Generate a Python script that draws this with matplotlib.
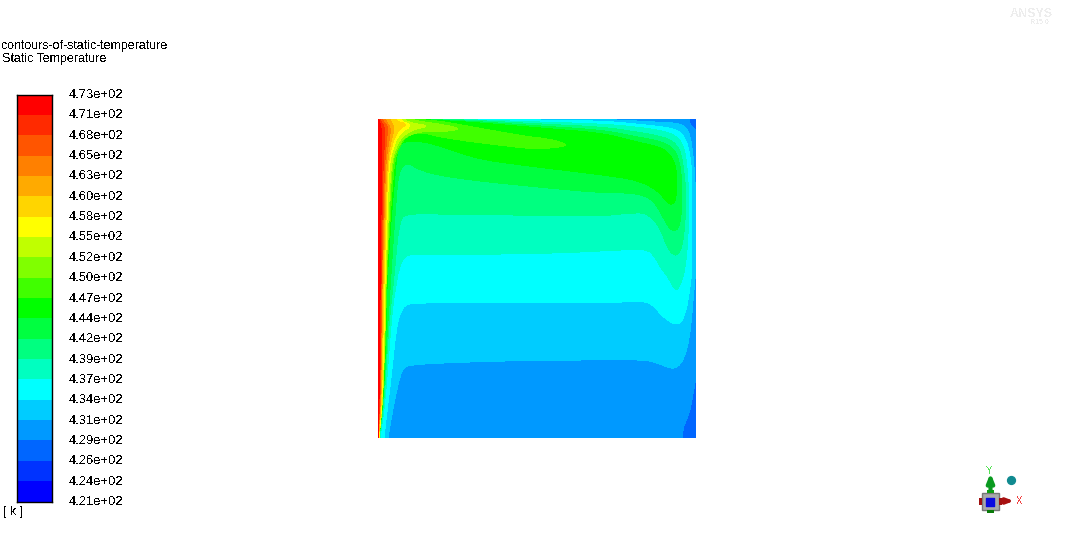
import numpy as np
import matplotlib
matplotlib.use("Agg")
import matplotlib.pyplot as plt
from matplotlib.colors import ListedColormap, BoundaryNorm

plt.rcParams['font.family'] = ['Liberation Sans', 'DejaVu Sans']
plt.rcParams['text.antialiased'] = False

title_lines = ["contours-of-static-temperature", "Static Temperature"]
unit_label = "[ k ]"
tick_labels = ["4.73e+02", "4.71e+02", "4.68e+02", "4.65e+02", "4.63e+02", "4.60e+02", "4.58e+02",
               "4.55e+02", "4.52e+02", "4.50e+02", "4.47e+02", "4.44e+02", "4.42e+02", "4.39e+02",
               "4.37e+02", "4.34e+02", "4.31e+02", "4.29e+02", "4.26e+02", "4.24e+02", "4.21e+02"]
band_colors = ["#0000ff", "#0033ff", "#0066ff", "#0099ff", "#00ccff", "#00ffff", "#00ffc0", "#00ff80",
               "#00ff40", "#00ff00", "#40ff00", "#80ff00", "#c0ff00", "#ffff00", "#ffd500", "#ffaa00",
               "#ff8000", "#ff5500", "#ff2a00", "#ff0000"]

# isotherm outlines: the region hotter than each band edge
iso_band2_corner_br = [(697, 377), (694, 395), (690, 415), (683, 431), (685, 445), (705, 445), (705, 377)]
iso_band2_corner_tr = [(689, 112), (690, 120), (692, 125), (697, 129), (705, 129), (705, 112)]
iso_band4 = [(388, 445), (388, 437), (394, 403), (399, 380), (403, 368), (410, 365), (440, 363), (500, 361),
             (560, 360), (620, 360), (647, 360), (660, 364), (672, 369), (679, 366), (684, 358), (688, 345),
             (691, 325), (693, 300), (696, 270), (696, 200), (694, 164), (691, 140), (688, 130), (680, 123),
             (653, 122), (620, 120), (585, 119), (585, 112), (365, 112), (365, 445)]
iso_band5 = [(384, 445), (384, 437), (388, 403), (392, 370), (395, 340), (398, 320), (403, 307), (410, 303),
             (453, 303), (503, 303), (570, 303), (627, 302), (643, 301), (653, 305), (663, 317), (675, 325),
             (682, 322), (687, 307), (690, 287), (692, 270), (692, 177), (691, 164), (688, 145), (682, 133),
             (672, 128), (637, 124), (603, 121), (540, 120), (483, 119), (483, 112), (365, 112), (365, 445)]
iso_band6 = [(380, 445), (380, 437), (385, 403), (390, 337), (393, 303), (397, 280), (398, 273), (403, 258),
             (410, 254), (450, 255), (500, 254), (560, 253), (620, 250), (647, 249), (655, 257), (660, 267),
             (668, 277), (676, 292), (681, 283), (685, 270), (688, 240), (689, 200), (687, 164), (684, 148),
             (678, 137), (665, 131), (637, 127), (603, 124), (540, 122), (480, 120), (440, 119), (440, 112),
             (365, 112), (365, 445)]
iso_band7 = [(379, 445), (379, 437), (384, 403), (388, 337), (391, 303), (394, 277), (397, 243), (400, 222),
             (405, 213), (470, 215), (537, 215), (603, 216), (630, 213), (647, 213), (660, 227), (668, 250),
             (677, 257), (682, 247), (685, 225), (686, 190), (683, 164), (680, 150), (672, 140), (655, 135),
             (637, 132), (603, 127), (540, 124), (470, 120), (425, 119), (425, 112), (365, 112), (365, 445)]
iso_band8 = [(379, 445), (379, 437), (383, 403), (387, 337), (390, 290), (393, 243), (396, 203), (398, 177),
             (402, 167), (408, 163), (420, 170), (437, 175), (470, 180), (537, 187), (603, 193), (637, 193),
             (653, 200), (662, 215), (668, 227), (675, 232), (680, 225), (682, 205), (682, 185), (680, 164),
             (675, 150), (665, 143), (650, 139), (637, 137), (603, 130), (540, 126), (470, 121), (415, 119),
             (415, 112), (365, 112), (365, 445)]
iso_band9 = [(379, 445), (379, 437), (383, 403), (386, 337), (387, 280), (391, 220), (396, 164), (398, 147),
             (403, 142), (415, 141), (430, 143), (457, 152), (483, 160), (537, 167), (603, 175), (637, 180),
             (657, 190), (667, 202), (672, 205), (676, 200), (677, 177), (675, 164), (670, 154), (660, 147),
             (637, 142), (603, 133), (540, 128), (470, 122), (410, 119), (410, 112), (365, 112), (365, 445)]
iso_band10 = [(379, 445), (379, 437), (382.5, 403), (385.5, 337), (386.5, 280), (390, 220), (394, 164), (398, 150),
              (405, 137), (420, 132), (440, 137), (473, 142), (507, 146), (533, 149), (553, 148), (570, 145),
              (550, 139), (523, 136), (473, 127), (440, 121), (420, 120), (420, 112), (365, 112), (365, 445)]
iso_band11 = [(379, 445), (379, 437), (382.5, 403), (385, 337), (386, 280), (389, 220), (392, 164), (397, 149),
              (405, 136), (425, 131), (440, 132), (463, 129), (440, 124), (410, 120), (410, 112), (365, 112),
              (365, 445)]
iso_band12 = [(379, 445), (379, 437), (382.5, 403), (385, 337), (386, 280), (388, 220), (391, 164), (396, 147),
              (402, 137), (412, 130), (430, 126), (412, 123), (405, 120.5), (405, 112), (365, 112), (365, 445)]
iso_band13 = [(379, 445), (379, 437), (382, 403), (384, 337), (385, 280), (387, 220), (389, 164), (394, 145),
              (400, 133), (413, 125), (400, 121), (400, 112), (365, 112), (365, 445)]
iso_band14 = [(378.5, 445), (378.5, 437), (381.5, 403), (383, 337), (384, 280), (386, 220), (388, 164), (392, 145),
              (398, 130), (408, 124), (395, 121), (395, 112), (365, 112), (365, 445)]
iso_band15 = [(378.5, 445), (378.5, 437), (381, 403), (382, 337), (383, 280), (385, 220), (387, 164), (391, 140),
              (395, 128), (390, 121), (390, 112), (365, 112), (365, 445)]
iso_band16 = [(378, 445), (378, 437), (380.5, 403), (381.5, 337), (382, 280), (384, 220), (385.5, 164), (389, 140),
              (391, 128), (385, 120), (385, 112), (365, 112), (365, 445)]
iso_band17 = [(378, 445), (378, 437), (380, 403), (381, 337), (381.5, 280), (383, 220), (384.5, 164), (387, 135),
              (388, 127), (382, 120), (382, 112), (365, 112), (365, 445)]
iso_band18 = [(378, 445), (378, 437), (379.5, 403), (380.5, 337), (381, 280), (382, 220), (383, 164), (385, 135),
              (384, 126), (380, 120), (380, 112), (365, 112), (365, 445)]
iso_band19 = [(378, 445), (378, 437), (379, 403), (380, 337), (380, 280), (381, 220), (381.5, 164), (382, 135),
              (380, 122), (378, 119), (378, 112), (365, 112), (365, 445)]

hot_isotherms = [(4, iso_band4), (5, iso_band5), (6, iso_band6), (7, iso_band7), (8, iso_band8), (9, iso_band9),
                 (10, iso_band10), (11, iso_band11), (12, iso_band12), (13, iso_band13), (14, iso_band14),
                 (15, iso_band15), (16, iso_band16), (17, iso_band17), (18, iso_band18), (19, iso_band19)]


def smooth(points, rounds=2):
    p = np.asarray(points, float)
    for _ in range(rounds):
        q = np.roll(p, -1, axis=0)
        p = np.column_stack([0.75 * p + 0.25 * q, 0.25 * p + 0.75 * q]).reshape(-1, 2)
    return p


W, H = 1075, 554
fig = plt.figure(figsize=(W / 100, H / 100), dpi=100, facecolor='white')


def pixel_axes(x0, y0, x1, y1):
    return fig.add_axes([x0 / W, 1 - y1 / H, (x1 - x0) / W, (y1 - y0) / H])


# contour field
ax = pixel_axes(378, 119, 696, 438)
ax.set_xlim(378, 696)
ax.set_ylim(438, 119)
ax.axis('off')
ax.add_patch(plt.Rectangle((378, 119), 318, 319, fc=band_colors[3], ec='none', antialiased=False))
for corner in (iso_band2_corner_br, iso_band2_corner_tr):
    ax.fill(*smooth(corner, 1).T, fc=band_colors[2], ec='none', antialiased=False)
for idx, outline in hot_isotherms:
    ax.fill(*smooth(outline).T, fc=band_colors[idx], ec='none', antialiased=False)

# colour legend
cax = pixel_axes(17, 94.5, 52, 501.5)
n = len(band_colors)
cax.pcolormesh([0, 1], np.arange(n + 1), np.arange(n).reshape(-1, 1),
               cmap=ListedColormap(band_colors), norm=BoundaryNorm(np.arange(n + 1) - 0.5, n),
               antialiased=False)
cax.set_xticks([])
cax.set_yticks([])
for s in cax.spines.values():
    s.set_linewidth(1.0)
    s.set_color('black')

# overlay in figure pixels
ov = fig.add_axes([0, 0, 1, 1], zorder=5)
ov.set_xlim(0, W)
ov.set_ylim(H, 0)
ov.axis('off')
ov.patch.set_alpha(0)
TITLE_FS = 8.95
TICK_FS = 9.35
ov.text(2, 46, title_lines[0], fontsize=TITLE_FS, va='center', ha='left', color='black')
ov.text(2, 59, title_lines[1], fontsize=TITLE_FS, va='center', ha='left', color='black')
ov.text(3, 512, unit_label, fontsize=TITLE_FS, va='center', ha='left', color='black')
for i, lab in enumerate(tick_labels):
    ov.text(69, 95 + i * 407 / 20, lab, fontsize=TICK_FS, va='center', ha='left', color='black')

# faint logo
ov.text(1031, 14, "ANSYS", fontsize=9, fontweight='bold', va='center', ha='center', color='#ededed')
ov.text(1040, 22, "R15.0", fontsize=5, va='center', ha='center', color='#ededed')

# orientation triad
ov.add_patch(plt.Rectangle((982, 493), 17, 17, fc='#a9a9a9', ec='#777777', lw=1, zorder=2))
ov.add_patch(plt.Rectangle((987, 490), 7, 3, fc='#10a010', ec='none', zorder=2))
ov.add_patch(plt.Rectangle((987, 510), 7, 3, fc='#0a7a0a', ec='none', zorder=2))
ov.add_patch(plt.Rectangle((979, 498), 3, 7, fc='#a01010', ec='none', zorder=2))
ov.add_patch(plt.Rectangle((999, 498), 3, 7, fc='#a01010', ec='none', zorder=2))
ov.scatter([990], [502], s=30, marker='s', c='#0a0ae0', zorder=3)
ov.annotate('', xy=(990.5, 473), xytext=(990.5, 490),
            arrowprops=dict(arrowstyle='-|>,head_width=0.2,head_length=0.5', lw=3, color='#0a9a20', shrinkA=0, shrinkB=0))
ov.annotate('', xy=(1014, 501), xytext=(1003, 501),
            arrowprops=dict(arrowstyle='-|>,head_width=0.15,head_length=0.4', lw=2.5, color='#a81010', shrinkA=0, shrinkB=0))
ov.text(989, 471, "Y", fontsize=7, color='#55e055', va='center', ha='center')
ov.text(1019, 501.5, "X", fontsize=7, color='#f04040', va='center', ha='center')
ov.scatter([1011], [480], s=32, c='#108a90', zorder=3)

fig.savefig("out.png", dpi=100)
